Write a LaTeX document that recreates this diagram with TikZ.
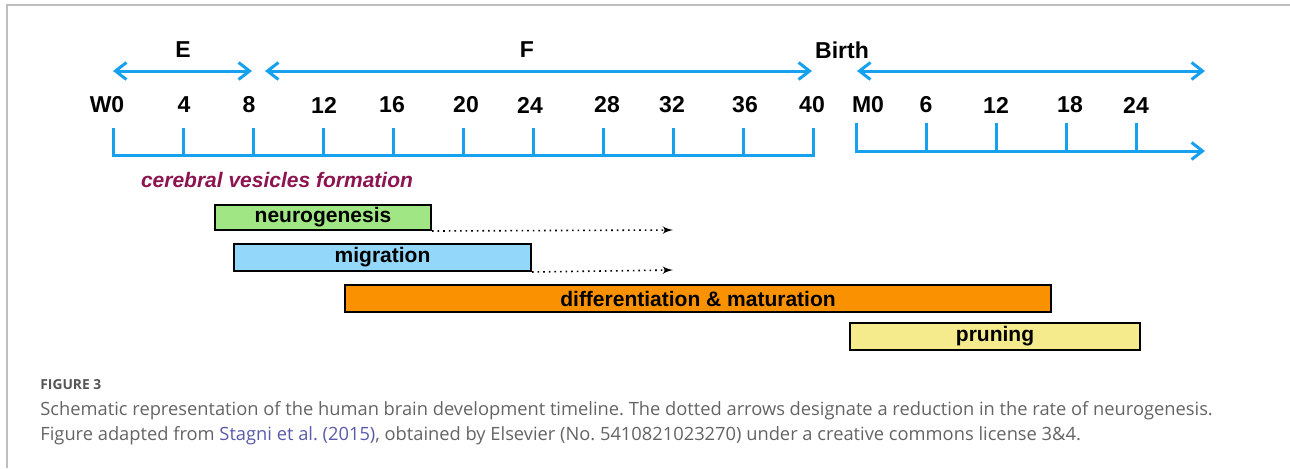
\documentclass[tikz,border=0pt]{standalone}
\usepackage{fontspec}
\setmainfont{Liberation Sans}
\newfontfamily\capfont{Open Sans}
\usetikzlibrary{arrows,arrows.meta,positioning}
\definecolor{axisblue}{RGB}{22,160,240}
\definecolor{neurogreen}{RGB}{160,230,132}
\definecolor{migblue}{RGB}{147,215,250}
\definecolor{difforange}{RGB}{250,145,0}
\definecolor{prunyellow}{RGB}{245,234,140}
\definecolor{vesicle}{RGB}{140,20,80}
\definecolor{capgray}{RGB}{100,100,100}
\definecolor{linkblue}{RGB}{90,90,170}
\definecolor{framegray}{RGB}{190,190,190}
\frenchspacing
\tikzset{every node/.append style={transform shape=false}}
\tikzset{axis/.style={axisblue, line width=1.5pt, >={Straight Barb[length=5.5pt,width=8.5pt]}}}
\tikzset{lab/.style={font=\fontsize{11.5}{13}\selectfont\bfseries, inner sep=1pt}}
\tikzset{bar/.style={draw=black, line width=1pt, inner sep=0pt, font=\fontsize{10.5}{12}\selectfont\bfseries}}
\tikzset{dotarrow/.style={dotted, thick, -latex'}}
\tikzset{captext/.style={anchor=base west, inner sep=0pt, text=capgray, font=\capfont\fontsize{9.15}{11}\selectfont}}

\begin{document}
\begin{tikzpicture}[x=0.5pt,y=-0.5pt]
\useasboundingbox (0,0) rectangle (1290,468);
\draw[framegray, line width=1pt] (7,468) -- (7,5) -- (1290,5);
% periods
\coordinate (eL) at (113,71);  \coordinate (eR) at (252,71);
\coordinate (fL) at (265,71);  \coordinate (fR) at (812,71);
\coordinate (bL) at (857,71);  \coordinate (bR) at (1205,71);
\draw[axis, <->] (eL) -- (eR);
\draw[axis, <->] (fL) -- (fR);
\draw[axis, <->] (bL) -- (bR);
\node[lab] (E) at (183,50) {E};
\node[lab] (F) at (527,50) {F};
\node[lab] (birth) at (842,50) {Birth};
% weeks and months
\foreach \x/\t [count=\i] in {107/W0,184/4,249/8,324/12,392/16,466/20,530/24,607/28,672/32,745/36,812/40,868/M0,926/6,996/12,1070/18,1136/24}
  \node[lab] (t\i) at (\x,105) {\t};
\draw[axis] (113,128) -- (113,155) -- (813,155) -- (813,128);
\foreach \x in {183,253,323,393,463,533,603,673,743}
  \draw[axis] (\x,128) -- (\x,155);
\coordinate (mEnd) at (1205,151);
\draw[axis, ->] (856,123) -- (856,151) -- (mEnd);
\foreach \x in {926,996,1066,1136}
  \draw[axis] (\x,123) -- (\x,151);
\node[font=\fontsize{10.5}{12}\selectfont\bfseries\itshape, text=vesicle] (vesicles) at (277,180) {cerebral vesicles formation};
% processes
\node[bar, fill=neurogreen, minimum width=108pt, minimum height=12.5pt] (neuro) at (323,217.5) {neurogenesis};
\node[bar, fill=migblue, minimum width=148.5pt, minimum height=13.5pt] (mig) at (382.5,257.5) {migration};
\node[bar, fill=difforange, minimum width=353pt, minimum height=13.5pt] (diff) at (698,298.5) {differentiation \& maturation};
\node[bar, fill=prunyellow, minimum width=145pt, minimum height=13.5pt] (prun) at (995,336.5) {pruning};
\coordinate (nEnd) at (673,230);
\coordinate (gEnd) at (673,270);
\draw[dotarrow] (neuro.south east) -- (nEnd);
\draw[dotarrow] (mig.south east) -- (gEnd);
% caption
\node[captext, text=capgray!85!black, font=\capfont\fontsize{6.9}{8}\selectfont\bfseries] (fig) at (40,389) {FIGURE 3};
\node[captext] (cap1) at (40,415) {Schematic representation of the human brain development timeline. The dotted arrows designate a reduction in the rate of neurogenesis.};
\node[captext] (cap2) at (40,440) {Figure adapted from {\color{linkblue}Stagni et al. (2015)}, obtained by Elsevier (No. 5410821023270) under a creative commons license 3\&4.};
\end{tikzpicture}
\end{document}
